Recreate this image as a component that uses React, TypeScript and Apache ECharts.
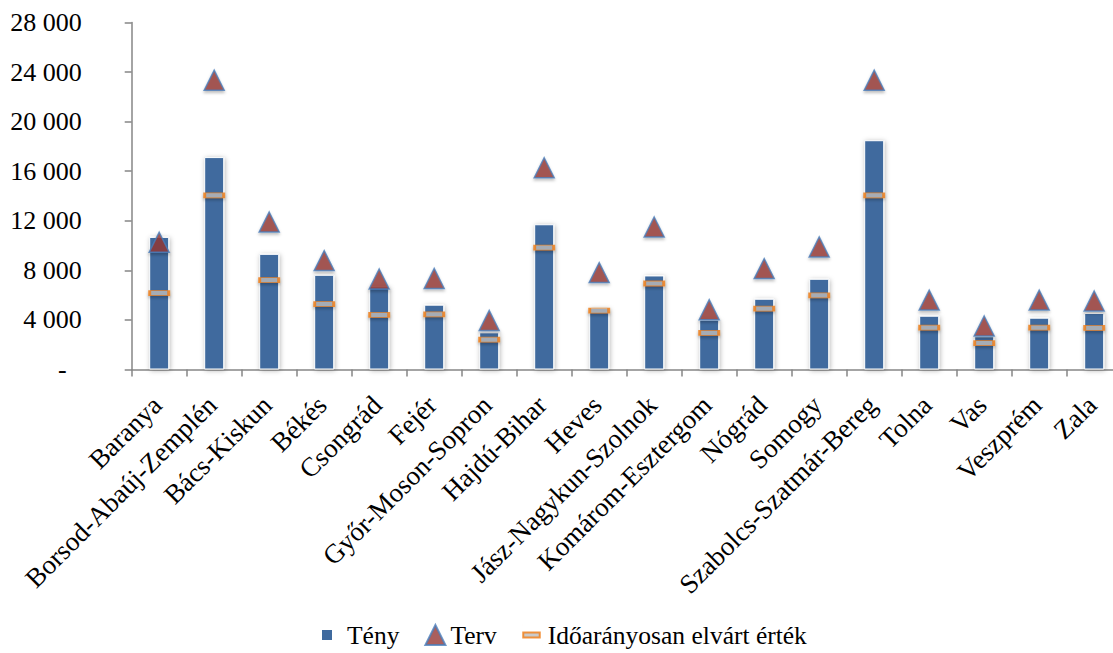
import React, { useEffect, useRef } from "react";
import * as echarts from "echarts";

const categories = [
  "Baranya",
  "Borsod-Abaúj-Zemplén",
  "Bács-Kiskun",
  "Békés",
  "Csongrád",
  "Fejér",
  "Győr-Moson-Sopron",
  "Hajdú-Bihar",
  "Heves",
  "Jász-Nagykun-Szolnok",
  "Komárom-Esztergom",
  "Nógrád",
  "Somogy",
  "Szabolcs-Szatmár-Bereg",
  "Tolna",
  "Vas",
  "Veszprém",
  "Zala",
];

const teny = [10700, 17140, 9330, 7640, 6700, 5230, 3000, 11720, 4960, 7590, 4020, 5710, 7320, 18500, 4340, 2680, 4180, 4560];
const terv = [10270, 23350, 11900, 8790, 7300, 7350, 3960, 16280, 7820, 11500, 4830, 8140, 9890, 23350, 5600, 3510, 5600, 5530];
const idoaranyos = [6170, 14050, 7210, 5280, 4400, 4450, 2410, 9840, 4750, 6940, 2950, 4910, 5980, 14050, 3380, 2120, 3380, 3350];

const yMin = 0;
const yMax = 28000;
const yInterval = 4000;

const FONT = "'Liberation Serif', 'Times New Roman', serif";

function fmt(v: number): string {
  if (v === 0) return "{d|-}";
  const s = String(Math.round(v));
  return s.replace(/\B(?=(\d{3})+(?!\d))/g, " ");
}

export default function App() {
  const ref = useRef<HTMLDivElement>(null);
  useEffect(() => {
    if (!ref.current) return;
    const chart = echarts.init(ref.current, undefined, { renderer: "svg" });
    const axisGrey = "#868686";
    chart.setOption({
      animation: false,
      backgroundColor: "#ffffff",
      textStyle: { fontFamily: FONT },
      grid: {
        left: 131.7,
        right: -8.7,
        top: 22.5,
        bottom: 283.5,
        containLabel: false,
        outerBoundsMode: "none",
      },
      legend: {
        top: 622,
        left: 320,
        padding: 0,
        itemWidth: 20,
        itemHeight: 20,
        itemGap: 25,
        textStyle: { fontFamily: FONT, fontSize: 25.5, color: "#000" },
        data: [
          {
            name: "Tény",
            icon: "path://M0,0L0.01,0M2,5H12V15H2Z M20,20L19.99,20",
            itemStyle: { color: "#3F6A9E", borderWidth: 0 },
            textStyle: { fontFamily: FONT, fontSize: 25.5, color: "#000", padding: [0, 0, 0, 2] },
          },
          {
            name: "Terv",
            icon: "triangle",
          },
          {
            name: "Időarányosan elvárt érték",
            icon: "path://M0,0L0.01,0M0.5,7.5H17V12.5H0.5Z M20,20L19.99,20",
          },
        ],
      },
      xAxis: {
        type: "category",
        data: categories,
        axisLine: { lineStyle: { color: axisGrey, width: 1.5 } },
        axisTick: { show: true, length: 7, inside: false, lineStyle: { color: axisGrey, width: 1.5 } },
        axisLabel: {
          interval: 0,
          rotate: 45,
          margin: 29,
          padding: [0, 3, 0, 0],
          fontFamily: FONT,
          fontSize: 27,
          color: "#000",
        },
        splitLine: { show: false },
      },
      yAxis: {
        type: "value",
        min: yMin,
        max: yMax,
        interval: yInterval,
        axisLine: { show: true, lineStyle: { color: axisGrey, width: 1.5 } },
        axisTick: { show: true, length: 7, inside: false, lineStyle: { color: axisGrey, width: 1.5 } },
        splitLine: { show: false },
        axisLabel: {
          margin: 50,
          fontFamily: FONT,
          fontSize: 26,
          color: "#000",
          formatter: (v: number) => fmt(v),
          rich: {
            d: { fontFamily: FONT, fontSize: 26, color: "#000", padding: [0, 15, 0, 0] },
          },
        },
      },
      series: [
        {
          name: "Tény",
          type: "bar",
          data: teny,
          barWidth: 20,
          itemStyle: {
            color: "#3F6A9E",
            borderColor: "#ffffff",
            borderWidth: 1,
            shadowColor: "rgba(0,0,0,0.3)",
            shadowBlur: 5,
            shadowOffsetX: 1,
            shadowOffsetY: 1,
          },
          z: 2,
        },
        {
          name: "Terv",
          type: "scatter",
          data: terv,
          symbol: "triangle",
          symbolSize: [20, 20],
          itemStyle: {
            color: "#953735",
            borderColor: "#4A7EBB",
            borderWidth: 1.5,
            shadowColor: "rgba(0,0,0,0.3)",
            shadowBlur: 3,
            shadowOffsetY: 2,
          },
          z: 4,
        },
        {
          name: "Időarányosan elvárt érték",
          type: "scatter",
          data: idoaranyos,
          symbol: "rect",
          symbolSize: [19, 5],
          itemStyle: {
            color: "#BDBDBD",
            borderColor: "#F07A12",
            borderWidth: 1.5,
            shadowColor: "rgba(0,0,0,0.3)",
            shadowBlur: 3,
            shadowOffsetY: 2,
          },
          z: 5,
        },
      ],
    });
    return () => chart.dispose();
  }, []);
  return (
    <div
      ref={ref}
      style={{ position: "fixed", left: 0, top: 0, width: 1113, height: 653 }}
    />
  );
}
